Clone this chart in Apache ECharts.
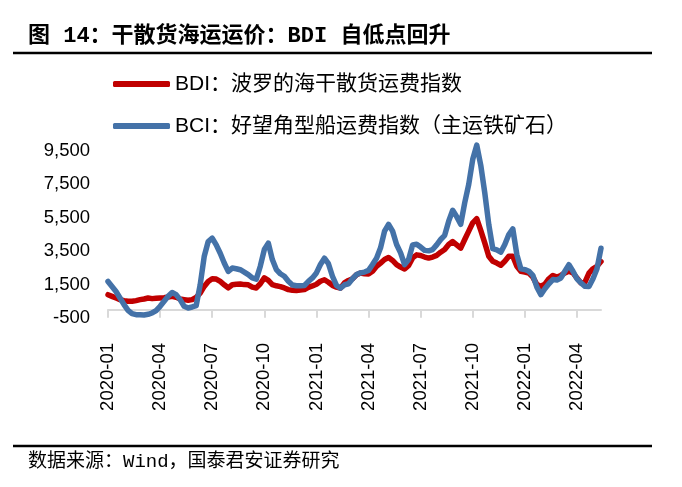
<!DOCTYPE html>
<html>
<head>
<meta charset="utf-8">
<script src="https://cdn.jsdelivr.net/npm/echarts@6/dist/echarts.min.js"></script>
<style>
html,body{margin:0;padding:0;background:#fff;}
#chart{width:682px;height:487px;}
</style>
</head>
<body>
<div id="chart"></div>
<script>
// Weekly observation dates
const categories = [
"2020-01-03","2020-01-10","2020-01-17","2020-01-24","2020-01-31",
"2020-02-07","2020-02-14","2020-02-21","2020-02-28",
"2020-03-06","2020-03-13","2020-03-20","2020-03-27",
"2020-04-03","2020-04-10","2020-04-17","2020-04-24",
"2020-05-01","2020-05-08","2020-05-15","2020-05-22","2020-05-29",
"2020-06-05","2020-06-12","2020-06-19","2020-06-26",
"2020-07-03","2020-07-10","2020-07-17","2020-07-24","2020-07-31",
"2020-08-07","2020-08-14","2020-08-21","2020-08-28",
"2020-09-04","2020-09-11","2020-09-18","2020-09-25",
"2020-10-02","2020-10-09","2020-10-16","2020-10-23","2020-10-30",
"2020-11-06","2020-11-13","2020-11-20","2020-11-27",
"2020-12-04","2020-12-11","2020-12-18","2020-12-25",
"2021-01-01","2021-01-08","2021-01-15","2021-01-22","2021-01-29",
"2021-02-05","2021-02-12","2021-02-19","2021-02-26",
"2021-03-05","2021-03-12","2021-03-19","2021-03-26",
"2021-04-02","2021-04-09","2021-04-16","2021-04-23","2021-04-30",
"2021-05-07","2021-05-14","2021-05-21","2021-05-28",
"2021-06-04","2021-06-11","2021-06-18","2021-06-25",
"2021-07-02","2021-07-09","2021-07-16","2021-07-23","2021-07-30",
"2021-08-06","2021-08-13","2021-08-20","2021-08-27",
"2021-09-03","2021-09-10","2021-09-17","2021-09-24",
"2021-10-01","2021-10-08","2021-10-15","2021-10-22","2021-10-29",
"2021-11-05","2021-11-12","2021-11-19","2021-11-26",
"2021-12-03","2021-12-10","2021-12-17","2021-12-24","2021-12-31",
"2022-01-07","2022-01-14","2022-01-21","2022-01-28",
"2022-02-04","2022-02-11","2022-02-18","2022-02-25",
"2022-03-04","2022-03-11","2022-03-18","2022-03-25",
"2022-04-01","2022-04-08","2022-04-15","2022-04-22","2022-04-29",
"2022-05-06","2022-05-13"
];

// BDI weekly values
const bdi = [
895,795,700,600,540,
500,500,540,600,
640,700,660,680,
700,720,760,795,
740,640,600,560,600,
740,990,1390,1690,
1850,1830,1690,1490,1300,
1490,1520,1540,1500,
1490,1350,1300,1550,
1900,1750,1500,1430,1380,
1300,1200,1160,1150,
1180,1200,1330,1420,
1520,1700,1790,1640,1450,
1350,1290,1600,1750,
1850,2090,2190,2150,
2140,2300,2600,2790,3000,
3120,2950,2700,2550,
2430,2650,3100,3280,
3240,3150,3090,3150,3250,
3440,3600,3900,4080,
3880,3680,4200,4700,
5200,5450,4750,4000,3200,
2900,2790,2660,2900,
3200,3200,2600,2300,2250,
2190,1950,1500,1400,
1530,1850,2050,1950,
2050,2200,2300,2200,
1890,1600,1650,2190,2450,
2600,2880
];

// BCI weekly values
const bci = [
1690,1390,1090,700,300,
-40,-240,-300,-300,
-320,-280,-200,-60,
200,500,800,1030,
900,600,200,100,160,
240,1490,3180,4080,
4280,3880,3380,2790,2290,
2490,2450,2390,2250,
2100,1900,1830,2600,
3600,3980,3000,2400,2150,
2000,1700,1480,1430,
1430,1450,1690,1900,
2200,2700,3080,2750,2000,
1450,1290,1490,1550,
1850,2100,2200,2250,
2350,2700,3080,3700,4700,
5110,4700,3900,3400,
2700,3000,3880,3920,
3750,3550,3520,3600,3880,
4200,4450,5300,5950,
5570,5110,6400,7500,
9000,9850,8650,7000,5100,
3650,3580,3440,3900,
4500,4830,3300,2450,2400,
2300,2050,1350,900,
1250,1550,1800,1780,
1900,2300,2690,2300,
1850,1600,1400,1390,1850,
2450,3680
];

// Quarterly tick labels
const tickLabels = ["2020-01","2020-04","2020-07","2020-10","2021-01","2021-04","2021-07","2021-10","2022-01","2022-04"];

const seriesNames = ["BDI：波罗的海干散货运费指数", "BCI：好望角型船运费指数（主运铁矿石）"];

// map each tick label (first day of month) to nearest weekly category
const labelAt = {};
tickLabels.forEach(function (t) {
  const target = new Date(t + "-01T00:00:00Z").getTime();
  let best = 0, bestD = Infinity;
  categories.forEach(function (c, i) {
    const d = Math.abs(new Date(c + "T00:00:00Z").getTime() - target);
    if (d < bestD) { bestD = d; best = i; }
  });
  labelAt[best] = t;
});
const showAt = function (idx) { return labelAt.hasOwnProperty(idx); };

const chart = echarts.init(document.getElementById('chart'), null, {renderer: 'canvas'});
const latin = '"Liberation Sans", "Noto Sans CJK SC", sans-serif';
const mono = '"Liberation Mono", "Noto Sans CJK SC", monospace';

chart.setOption({
  animation: false,
  backgroundColor: '#ffffff',
  title: [
    {
      text: '图 14：干散货海运运价：BDI 自低点回升',
      left: 28, top: 25, padding: 0,
      textStyle: {fontFamily: mono, fontWeight: 'bold', fontSize: 22, lineHeight: 23, color: '#000'}
    },
    {
      text: '数据来源：Wind，国泰君安证券研究',
      left: 28, top: 452, padding: 0,
      textStyle: {fontFamily: mono, fontWeight: 'normal', fontSize: 19, lineHeight: 20, color: '#000'}
    }
  ],
  graphic: [
    {type: 'line', shape: {x1: 13, y1: 53, x2: 652, y2: 53}, style: {stroke: '#000', lineWidth: 2.5}},
    {type: 'line', shape: {x1: 13, y1: 446, x2: 652, y2: 446}, style: {stroke: '#000', lineWidth: 2.5}}
  ],
  legend: {
    orient: 'vertical',
    left: 108, top: 68,
    itemWidth: 57, itemHeight: 6,
    itemGap: 20,
    icon: 'roundRect',
    textStyle: {fontFamily: latin, fontSize: 21, lineHeight: 22, color: '#000'},
    data: seriesNames
  },
  grid: {left: 108, right: 81, top: 151, bottom: 169, containLabel: false},
  xAxis: {
    type: 'category',
    data: categories,
    boundaryGap: false,
    axisLine: {onZero: true, lineStyle: {color: '#d9d9d9', width: 2}},
    axisTick: {show: true, interval: showAt, length: 8, lineStyle: {color: '#d9d9d9', width: 2}},
    axisLabel: {
      interval: showAt,
      rotate: 90,
      margin: 25,
      fontFamily: latin, fontSize: 18.5, color: '#000',
      formatter: function (v, idx) { return labelAt[idx] || ''; }
    },
    splitLine: {show: false}
  },
  yAxis: {
    type: 'value',
    min: -500, max: 9500, interval: 2000,
    axisLine: {show: false},
    axisTick: {show: false},
    splitLine: {show: false},
    axisLabel: {
      margin: 18,
      fontFamily: latin, fontSize: 18.5, color: '#000',
      formatter: function (v) { return v.toLocaleString('en-US'); }
    }
  },
  series: [
    {
      name: seriesNames[0], type: 'line', data: bdi,
      showSymbol: false, symbol: 'none', clip: false,
      color: '#C00000',
      lineStyle: {color: '#C00000', width: 5.5, cap: 'round', join: 'round'},
      itemStyle: {color: '#C00000'}
    },
    {
      name: seriesNames[1], type: 'line', data: bci,
      showSymbol: false, symbol: 'none', clip: false,
      color: '#4472A8',
      lineStyle: {color: '#4472A8', width: 5.5, cap: 'round', join: 'round'},
      itemStyle: {color: '#4472A8'}
    }
  ]
});
</script>
</body>
</html>
